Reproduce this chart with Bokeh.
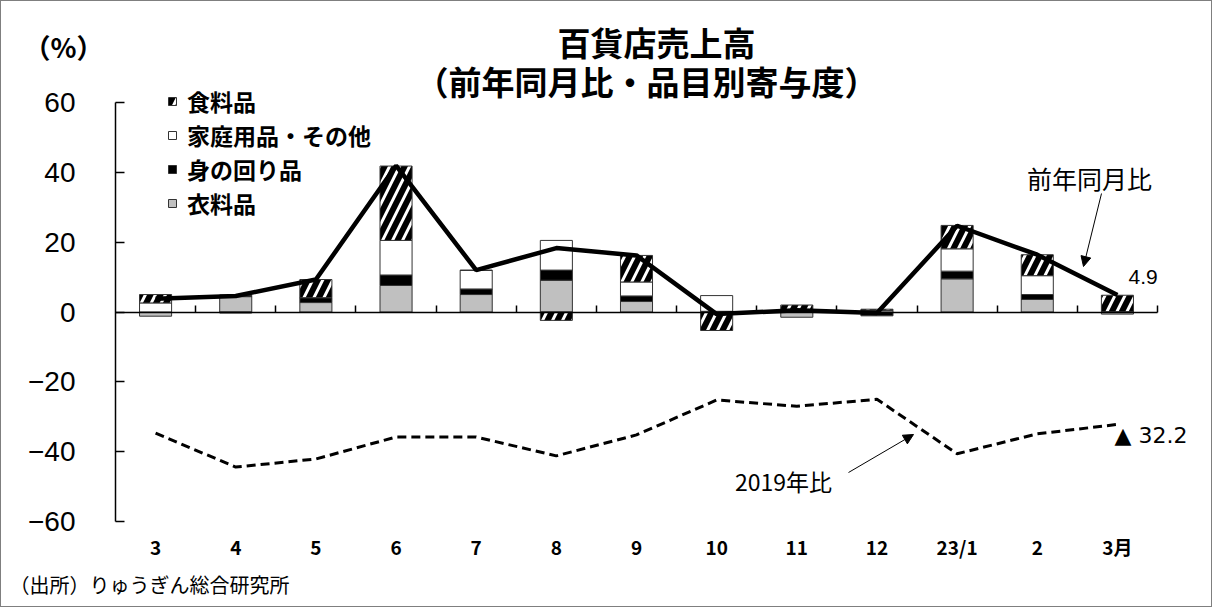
import numpy as np
from bokeh.plotting import figure
from bokeh.models import (Range1d, FixedTicker, LinearAxis, Legend, LegendItem,
                          Label, Arrow, NormalHead, ColumnDataSource)
from bokeh.embed import file_html
from bokeh.resources import INLINE

# ---------------- data ----------------
months = ["3", "4", "5", "6", "7", "8", "9", "10", "11", "12", "23/1", "2", "3月"]
clothing = [-1.2, 4.4, 2.7, 7.6, 5.0, 9.1, 3.0, 0.2, -1.5, 0.0, 9.5, 3.6, -0.6]      # 衣料品
personal = [0.0, 0.4, 1.4, 3.0, 1.6, 2.9, 1.6, 0.0, 0.0, -1.1, 2.2, 1.4, 0.0]        # 身の回り品
household = [2.6, -0.3, 0.0, 9.9, 5.3, 8.5, 4.0, 4.5, 0.2, 0.4, 6.4, 5.4, 0.1]       # 家庭用品・その他
food = [2.4, 0.0, 5.2, 21.3, 0.1, -2.4, 7.6, -5.3, 1.8, 0.4, 6.7, 6.0, 4.7]          # 食料品
yoy = [3.8, 4.6, 9.3, 41.9, 12.0, 18.3, 16.2, -0.6, 0.5, -0.3, 24.7, 16.4, 4.9]      # 前年同月比
vs2019 = [-34.7, -44.4, -42.1, -35.8, -35.8, -41.2, -35.2, -25.2, -27.0, -25.0, -40.6, -34.9, -32.2]  # 2019年比
series_names = ["衣料品", "身の回り品", "家庭用品・その他", "食料品"]
ytick_values = [-60, -40, -20, 0, 20, 40, 60]
ytick_labels = ["−60", "−40", "−20", "0", "20", "40", "60"]

# ---------------- layout (pixels) ----------------
W, H = 1212, 607
FL, FR, FT, FB = 114, 1156, 101, 520     # axis box in pixels
n = len(months)
AX0, AX1, AY0, AY1 = -0.5, n - 0.5, -60, 60
SX = (FR - FL) / (AX1 - AX0)
SY = (FB - FT) / (AY1 - AY0)
XMIN, XMAX = AX0 - FL / SX, AX1 + (W - FR) / SX
YMIN, YMAX = AY0 - (H - FB) / SY, AY1 + FT / SY


def dx(px):
    return XMIN + px / SX


def dy(py):
    return YMAX - py / SY


p = figure(width=W, height=H, x_range=Range1d(XMIN, XMAX), y_range=Range1d(YMIN, YMAX),
           output_backend="svg", toolbar_location=None,
           x_axis_type=None, y_axis_type=None,
           min_border_left=0, min_border_right=0, min_border_top=0, min_border_bottom=0)
p.grid.visible = False
p.outline_line_color = None
p.background_fill_color = "white"
p.border_fill_color = "white"
p.styles = {"border": "1px solid #7f7f7f"}

JP = "Noto Sans CJK JP"

# ---------------- stacked bars ----------------
styles = [
    dict(fill_color="#c0c0c0"),
    dict(fill_color="black"),
    dict(fill_color="white"),
    dict(fill_color="white", hatch_pattern="/", hatch_color="black", hatch_weight=6, hatch_scale=20),
]
x = np.arange(n)
pos = np.zeros(n)
neg = np.zeros(n)
renderers = []
for name, vals, st in zip(series_names, [clothing, personal, household, food], styles):
    v = np.array(vals, dtype=float)
    bottom = np.where(v >= 0, pos, neg)
    top = bottom + v
    pos = np.where(v >= 0, top, pos)
    neg = np.where(v < 0, top, neg)
    src = ColumnDataSource(dict(x=x, bottom=bottom, top=top))
    r = p.vbar(x="x", bottom="bottom", top="top", width=0.4, source=src,
               line_color="#333333", line_width=1, **st)
    renderers.append(r)

# ---------------- lines ----------------
p.line(x, yoy, line_color="black", line_width=4.5)
p.line(x, vs2019, line_color="black", line_width=3, line_dash="9 5")

# ---------------- axes ----------------
yaxis = LinearAxis(fixed_location=AX0, bounds=(AY0, AY1), ticker=FixedTicker(ticks=ytick_values),
                   major_label_overrides=dict(zip(ytick_values, ytick_labels)),
                   major_tick_in=9, major_tick_out=0, minor_tick_line_color=None,
                   axis_line_width=1.5, major_tick_line_width=1.5,
                   major_label_text_font="Liberation Sans", major_label_text_font_size="28px",
                   major_label_text_color="black", major_label_standoff=40)
p.add_layout(yaxis, "left")

zero_axis = LinearAxis(fixed_location=0, bounds=(AX0, AX1), ticker=FixedTicker(ticks=list(x + 0.5)),
                       major_tick_in=7, major_tick_out=0, minor_tick_line_color=None,
                       axis_line_width=1.5, major_tick_line_width=1.5,
                       major_label_text_font_size="0px", major_label_text_color=None)
p.add_layout(zero_axis, "below")

cat_axis = LinearAxis(fixed_location=AY0, ticker=FixedTicker(ticks=list(range(n))),
                      major_label_overrides={i: m for i, m in enumerate(months)},
                      axis_line_color=None, major_tick_line_color=None, minor_tick_line_color=None,
                      major_label_text_font=JP, major_label_text_font_style="bold",
                      major_label_text_font_size="19px", major_label_text_color="black",
                      major_label_standoff=5)
p.add_layout(cat_axis, "below")

# ---------------- legend ----------------
items = [LegendItem(label=series_names[i], renderers=[renderers[i]]) for i in [3, 2, 1, 0]]
legend = Legend(items=items, location=(166, H - 219), glyph_width=10, glyph_height=10,
                label_text_font=JP, label_text_font_size="23px", label_text_font_style="bold",
                label_text_color="black",
                label_standoff=10, spacing=0, label_height=24, padding=0, margin=0,
                border_line_color=None, background_fill_alpha=0)
p.add_layout(legend, "center")

# ---------------- texts ----------------
def add_label(text, px, py, size, align="left", font=JP, style="normal"):
    p.add_layout(Label(x=dx(px), y=dy(py), text=text, text_align=align, text_baseline="middle",
                       text_font=font, text_font_size=size, text_font_style=style,
                       text_color="black"))

add_label("百貨店売上高", 655, 40, "33px", "center", style="bold")
add_label("（前年同月比・品目別寄与度）", 645, 79, "33px", "center", style="bold")
add_label("（%）", 22, 45, "27px", "left", style="bold")
add_label("前年同月比", 1088, 176, "25px", "center")
add_label("4.9", 1127, 275, "21px", "left", font="Liberation Sans")
add_label("▲ 32.2", 1113, 434, "22px", "left", font="DejaVu Sans")
add_label("2019年比", 782, 479, "23px", "center")
add_label("（出所）りゅうぎん総合研究所", 8, 583, "20px", "left")

p.add_layout(Arrow(end=NormalHead(size=10, fill_color="black", line_color="black"),
                   x_start=dx(1100), y_start=dy(192), x_end=dx(1082), y_end=dy(265),
                   line_width=1, line_color="black"))
p.add_layout(Arrow(end=NormalHead(size=10, fill_color="black", line_color="black"),
                   x_start=dx(847), y_start=dy(471), x_end=dx(912), y_end=dy(433),
                   line_width=1, line_color="black"))

open("out.html", "w").write(file_html(p, INLINE))
